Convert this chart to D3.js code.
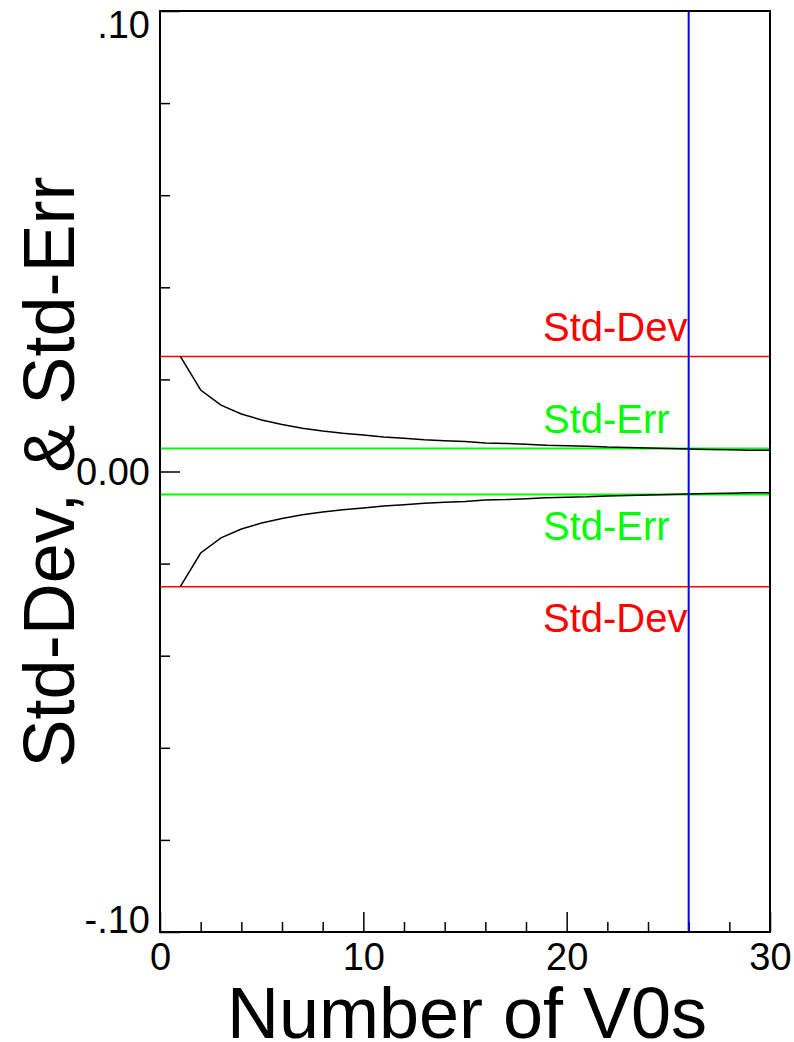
<!DOCTYPE html>
<html>
<head>
<meta charset="utf-8">
<script src="https://cdn.jsdelivr.net/npm/d3@7"></script>
<style>
  html, body { margin: 0; padding: 0; background: #fff; }
  svg { display: block; font-family: "Liberation Sans", Arial, sans-serif; }
</style>
</head>
<body>
<svg id="chart" width="794" height="1042"></svg>
<script>
// ---- data ----
const nValues = [1,2,3,4,5,6,7,8,9,10,11,12,13,14,15,16,17,18,19,20,21,22,23,24,25,26,27,28,29,30];
const upperErr = [0.0250,0.0177,0.0144,0.0125,0.0112,0.0102,0.0094,0.0088,0.0083,0.0079,
                  0.0075,0.0072,0.0069,0.0067,0.0065,0.0062,0.0061,0.0059,0.0057,0.0056,
                  0.0055,0.0053,0.0052,0.0051,0.0050,0.0049,0.0048,0.0047,0.0046,0.0046];
const lowerErr = [-0.0250,-0.0177,-0.0144,-0.0125,-0.0112,-0.0102,-0.0094,-0.0088,-0.0083,-0.0079,
                  -0.0075,-0.0072,-0.0069,-0.0067,-0.0065,-0.0062,-0.0061,-0.0059,-0.0057,-0.0056,
                  -0.0055,-0.0053,-0.0052,-0.0051,-0.0050,-0.0049,-0.0048,-0.0047,-0.0046,-0.0046];
const stdDevLines = [0.025, -0.025];
const stdErrLines = [0.005, -0.005];
const markerN = [26];
const xDomain = [0, 30];
const yDomain = [-0.10, 0.10];
const xMajorTicks = [0, 10, 20, 30];
const xMinorTicks = [2,4,6,8,12,14,16,18,22,24,26,28];
const yMajorTicks = [-0.10, 0.00, 0.10];
const yMinorTicks = [-0.08,-0.06,-0.04,-0.02,0.02,0.04,0.06,0.08];
const yTickLabels = {"-0.1": "-.10", "0": "0.00", "0.1": ".10"};
const xTitle = "Number of V0s";
const yTitle = "Std-Dev, & Std-Err";

// ---- layout ----
const L = 160, R = 770, T = 11, B = 932;
const svg = d3.select("#chart");
const x = d3.scaleLinear().domain(xDomain).range([L, R]);
const y = d3.scaleLinear().domain(yDomain).range([B, T]);

// minor ticks x
svg.append("g").attr("transform", `translate(0,${B})`)
  .call(d3.axisBottom(x).tickValues(xMinorTicks).tickSizeInner(-10).tickSizeOuter(0).tickFormat(""))
  .call(g => g.select(".domain").remove())
  .call(g => g.selectAll("line").attr("stroke", "#000").attr("stroke-width", 1.5));
// major ticks x
svg.append("g").attr("transform", `translate(0,${B})`)
  .call(d3.axisBottom(x).tickValues(xMajorTicks).tickSizeInner(-20).tickSizeOuter(0).tickPadding(11).tickFormat(d3.format("d")))
  .call(g => g.select(".domain").remove())
  .call(g => g.selectAll("line").attr("stroke", "#000").attr("stroke-width", 1.5))
  .call(g => g.selectAll("text").attr("font-size", 38).attr("font-family", "Liberation Sans, Arial, sans-serif").attr("fill", "#000"));

// minor ticks y
svg.append("g").attr("transform", `translate(${L},0)`)
  .call(d3.axisLeft(y).tickValues(yMinorTicks).tickSizeInner(-10).tickSizeOuter(0).tickFormat(""))
  .call(g => g.select(".domain").remove())
  .call(g => g.selectAll("line").attr("stroke", "#000").attr("stroke-width", 1.5));
// major ticks y
svg.append("g").attr("transform", `translate(${L},0)`)
  .call(d3.axisLeft(y).tickValues(yMajorTicks).tickSizeInner(-20).tickSizeOuter(0).tickPadding(10)
        .tickFormat(d => yTickLabels[String(+d.toFixed(2))]))
  .call(g => g.select(".domain").remove())
  .call(g => g.selectAll("line").attr("stroke", "#000").attr("stroke-width", 1.5))
  .call(g => g.selectAll("text").attr("font-size", 38).attr("font-family", "Liberation Sans, Arial, sans-serif").attr("fill", "#000")
        .attr("dy", d => d > 0.05 ? "0.71em" : (d < -0.05 ? "0em" : "0.34em")));

// reference lines
svg.append("g").selectAll("line").data(stdDevLines).join("line")
  .attr("x1", x(xDomain[0])).attr("x2", x(xDomain[1]))
  .attr("y1", d => y(d)).attr("y2", d => y(d))
  .attr("stroke", "#ff0000").attr("stroke-width", 1.5);
svg.append("g").selectAll("line").data(stdErrLines).join("line")
  .attr("x1", x(xDomain[0])).attr("x2", x(xDomain[1]))
  .attr("y1", d => y(d)).attr("y2", d => y(d))
  .attr("stroke", "#00ff00").attr("stroke-width", 2);

// curves
const line = d3.line().x(d => x(d[0])).y(d => y(d[1]));
svg.append("path").datum(d3.zip(nValues, upperErr)).attr("d", line)
  .attr("fill", "none").attr("stroke", "#000").attr("stroke-width", 1.5);
svg.append("path").datum(d3.zip(nValues, lowerErr)).attr("d", line)
  .attr("fill", "none").attr("stroke", "#000").attr("stroke-width", 1.5);

// labels
const labelX = 543;
svg.append("g").selectAll("text").data(stdDevLines).join("text")
  .attr("x", labelX).attr("y", d => d > 0 ? y(d) - 15 : y(d) + 45)
  .attr("font-size", 40).attr("fill", "#ff0000").text("Std-Dev");
svg.append("g").selectAll("text").data(stdErrLines).join("text")
  .attr("x", labelX).attr("y", d => d > 0 ? y(d) - 15 : y(d) + 45)
  .attr("font-size", 40).attr("fill", "#00ff00").text("Std-Err");

// marker vertical line
svg.append("g").selectAll("line").data(markerN).join("line")
  .attr("x1", d => x(d)).attr("x2", d => x(d))
  .attr("y1", y(yDomain[1])).attr("y2", y(yDomain[0]))
  .attr("stroke", "#0000ff").attr("stroke-width", 2);

// frame
svg.append("rect").attr("x", L).attr("y", T).attr("width", R - L).attr("height", B - T)
  .attr("fill", "none").attr("stroke", "#000").attr("stroke-width", 2);

// titles
svg.append("text").attr("transform", `translate(467,1038)`)
  .attr("text-anchor", "middle").attr("font-size", 72).attr("fill", "#000").text(xTitle);
svg.append("text").attr("transform", `translate(74,472) rotate(-90)`)
  .attr("text-anchor", "middle").attr("font-size", 72).attr("fill", "#000").text(yTitle);
</script>
</body>
</html>
